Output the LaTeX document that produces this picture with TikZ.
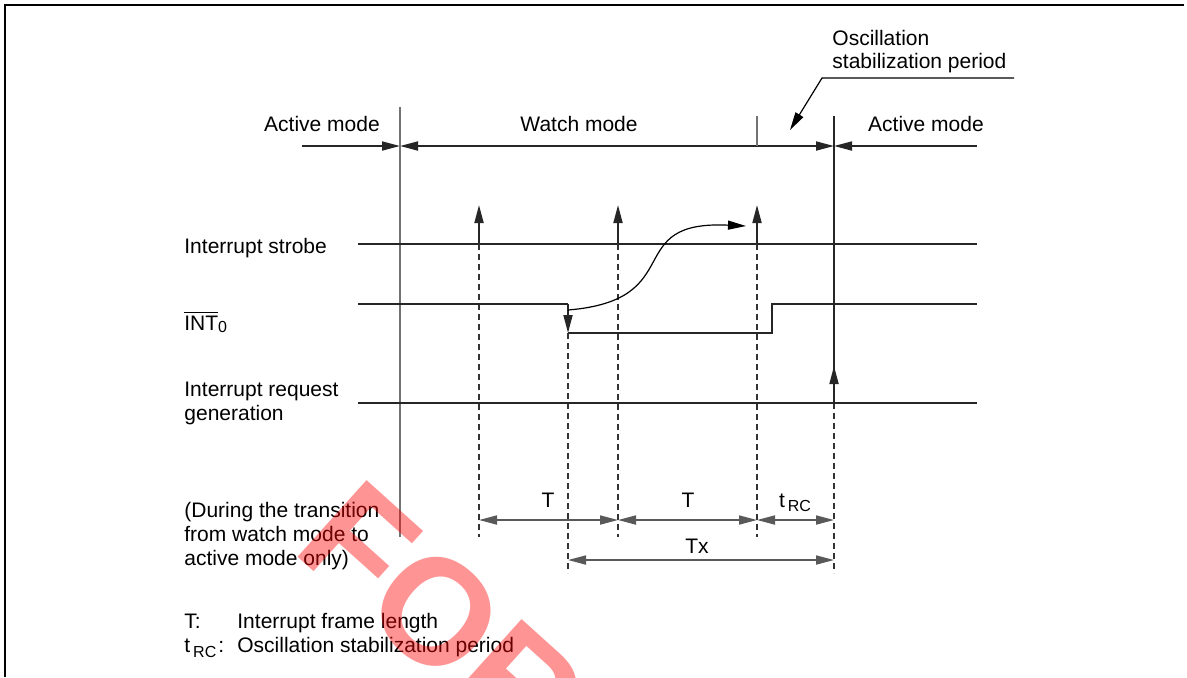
\documentclass[tikz,border=0pt]{standalone}
\usepackage{fontspec}
\setmainfont{Liberation Sans}
\usetikzlibrary{arrows.meta}
\begin{document}
\begin{tikzpicture}[x=0.5pt,y=-0.5pt,
  lbl/.style={inner sep=0pt, font=\fontsize{10.5}{12}\selectfont, anchor=base west},
  lblc/.style={inner sep=0pt, font=\fontsize{10.5}{12}\selectfont, anchor=base},
  ln/.style={line width=0.9pt, draw=black!85},
  gln/.style={line width=0.9pt, draw=black!55},
  thin/.style={line width=0.6pt, draw=black},
  dsh/.style={line width=0.7pt, draw=black!80, dash pattern=on 3pt off 2pt},
  tip/.style={-{Triangle[length=9pt,width=4.5pt]}},
  dim/.style={{Triangle[length=9pt,width=4.5pt]}-{Triangle[length=9pt,width=4.5pt]}, line width=0.9pt, draw=black!65},
  sub/.style={font=\fontsize{7.5}{7.5}\selectfont}
]
\useasboundingbox (0,0) rectangle (1187,677);
% frame
\coordinate (fb) at (5,677); \coordinate (fc) at (5,5); \coordinate (fr) at (1184,5);
\draw[line width=1pt] (fb) -- (fc) -- (fr);

% mode row
\coordinate (mL) at (302,146); \coordinate (m1) at (400,146);
\coordinate (m2) at (834,146); \coordinate (mR) at (977,146);
\draw[ln,tip] (mL) -- (m1);
\draw[ln,{Triangle[length=9pt,width=4.5pt]}-{Triangle[length=9pt,width=4.5pt]}] (m1) -- (m2);
\draw[ln,tip] (mR) -- (m2);
\node[lblc] (am1) at (322,131) {Active mode};
\node[lblc] (wm) at (579,131) {Watch mode};
\node[lblc] (am2) at (926,131) {Active mode};

% vertical boundaries
\coordinate (v1t) at (400,107); \coordinate (v1b) at (400,537);
\draw[gln] (v1t) -- (v1b);
\coordinate (tk1) at (757,116); \coordinate (tk2) at (757,146);
\draw[gln] (tk1) -- (tk2);
\coordinate (v2t) at (834,116); \coordinate (v2m) at (834,366);
\coordinate (rq) at (834,403); \coordinate (v2b) at (834,573);
\draw[ln] (v2t) -- (rq);
\draw[ln,tip] (rq) -- (v2m);
\draw[dsh] (rq) -- (v2b);

% oscillation label
\node[lbl] (os1) at (832,45) {Oscillation};
\node[lbl] (os2) at (832,68) {stabilization period};
\coordinate (oR) at (1014,78); \coordinate (oL) at (822,78); \coordinate (oT) at (790,130);
\draw[thin,tip] (oR) -- (oL) -- (oT);

% interrupt strobe
\node[lbl] (ls) at (184,253) {Interrupt strobe};
\coordinate (sL) at (358,244); \coordinate (sR) at (977,244);
\draw[ln] (sL) -- (sR);
\foreach \x/\n in {479/a,618/b,757/c}{
  \coordinate (s\n) at (\x,244);
  \coordinate (u\n) at (\x,205);
  \coordinate (d\n) at (\x,537);
  \draw[ln,tip] (s\n) -- (u\n);
  \draw[dsh] (s\n) -- (d\n);
}

% INT0
\node[lbl] (li) at (184,330) {$\overline{\mbox{INT}}$\raisebox{-1pt}{\fontsize{8}{8}\selectfont 0}};
\coordinate (i0) at (358,304); \coordinate (i1) at (568,304); \coordinate (i2) at (568,333);
\coordinate (i3) at (772,333); \coordinate (i4) at (772,304); \coordinate (i5) at (977,304);
\draw[ln] (i0) -- (i1);
\draw[ln,tip] (i1) -- (i2);
\draw[ln] (i2) -- (i3) -- (i4) -- (i5);
\coordinate (i2b) at (568,573);
\draw[dsh] (i2) -- (i2b);
\coordinate (cs) at (568,310); \coordinate (ce) at (746,226);
\draw[thin,tip] (cs) .. controls (690,300) and (620,220) .. (ce);

% interrupt request
\node[lbl] (lr1) at (184,396) {Interrupt request};
\node[lbl] (lr2) at (184,420) {generation};
\coordinate (rL) at (358,403); \coordinate (rR) at (977,403);
\draw[ln] (rL) -- (rR);

% dimensions
\coordinate (da1) at (479,520); \coordinate (da2) at (618,520);
\coordinate (da3) at (757,520); \coordinate (da4) at (834,520);
\draw[dim] (da1) -- (da2);
\draw[dim] (da2) -- (da3);
\draw[dim] (da3) -- (da4);
\coordinate (dx1) at (568,560); \coordinate (dx2) at (834,560);
\draw[dim] (dx1) -- (dx2);
\node[lblc] (t1) at (548,507) {T};
\node[lblc] (t2) at (688,507) {T};
\node[lblc] (t3) at (795,507) {t\hspace{1.5pt}\raisebox{-2.2pt}{\fontsize{8}{8}\selectfont RC}};
\node[lblc] (tx) at (697,553) {Tx};

% notes
\node[lbl] (n1) at (184,517) {(During the transition};
\node[lbl] (n2) at (184,541) {from watch mode to};
\node[lbl] (n3) at (184,565) {active mode only)};
\node[lbl] (g1) at (184,628) {T:};
\node[lbl] (g1t) at (237,628) {Interrupt frame length};
\node[lbl] (g2) at (184,652) {t\hspace{1.5pt}\raisebox{-2.5pt}{\fontsize{8}{8}\selectfont RC}\hspace{1pt}:};
\node[lbl] (g2t) at (237,652) {Oscillation stabilization period};

% watermark
\node[rotate=-42, anchor=base west, text=red, opacity=0.42, inner sep=0pt,
  font=\bfseries\fontsize{75}{75}\selectfont] (wmk) at (290,550) {FOR};
\end{tikzpicture}
\end{document}
